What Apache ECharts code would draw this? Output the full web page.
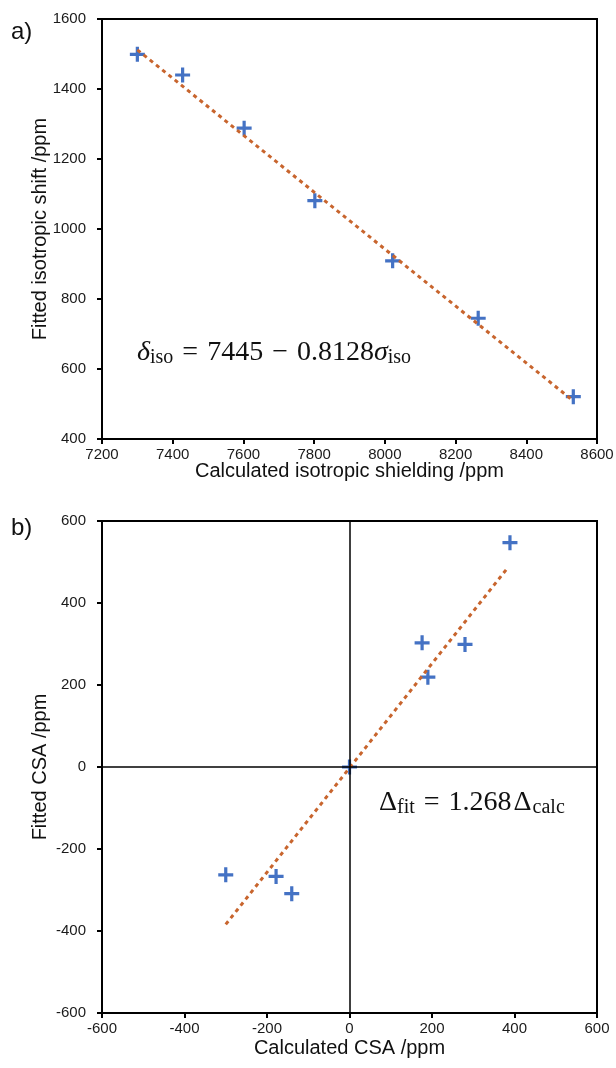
<!DOCTYPE html>
<html><head><meta charset="utf-8">
<script src="https://cdn.jsdelivr.net/npm/echarts@6/dist/echarts.min.js"></script>
<style>html,body{margin:0;padding:0;background:#fff}#c{width:616px;height:1068px}</style>
</head><body><div id="c"></div>
<script>
// Panel a) data
const isoCalc = [7300, 7428, 7602, 7802, 8022, 8264, 8533];
const isoFit = [1499, 1440, 1288, 1081, 909, 745, 521];
const isoTrendX = [7300, 8533];
const isoTrendY = [1512, 509];
const isoXTicks = [7200, 7400, 7600, 7800, 8000, 8200, 8400, 8600];
const isoYTicks = [400, 600, 800, 1000, 1200, 1400, 1600];
// Panel b) data
const csaCalc = [389, 176, 280, 190, 0, -300, -178, -140];
const csaFit = [547, 303, 299, 219, 0, -263, -267, -309];
const csaTrendX = [-300, 382];
const csaTrendY = [-384, 484];
const csaXTicks = [-600, -400, -200, 0, 200, 400, 600];
const csaYTicks = [-600, -400, -200, 0, 200, 400, 600];

const zip = (a, b) => a.map((v, i) => [v, b[i]]);
const PLUS = 'path://M5.5,0h3v5.5h5.5v3h-5.5v5.5h-3v-5.5h-5.5v-3h5.5z';
const BLUE = '#4472C4', ORANGE = '#C8652E';
const SANS = "'Liberation Sans', Arial, Helvetica, sans-serif";
const SERIF = "'Liberation Serif', 'Times New Roman', serif";

function axis(ticks, gi, name, gap, isY) {
  return {
    type: 'value', gridIndex: gi,
    min: ticks[0], max: ticks[ticks.length - 1], interval: ticks[1] - ticks[0],
    name: name, nameLocation: 'middle', nameGap: gap, nameMoveOverlap: false,
    nameTextStyle: { fontFamily: SANS, fontSize: 20, color: '#111' },
    axisLine: { show: true, onZero: false, lineStyle: { color: '#000', width: 2 } },
    axisTick: { show: true, inside: false, length: 5, lineStyle: { color: '#000', width: 2 } },
    axisLabel: { fontFamily: SANS, fontSize: 15, color: '#1a1a1a', margin: isY ? 16 : 8,
      formatter: v => String(v) },
    splitLine: { show: false }
  };
}

const rich = {
  i: { fontFamily: SERIF, fontStyle: 'italic', fontSize: 28, fill: '#111', lineHeight: 30, verticalAlign: 'middle' },
  n: { fontFamily: SERIF, fontSize: 28, fill: '#111', lineHeight: 30, verticalAlign: 'middle' },
  d: { fontFamily: SERIF, fontSize: 28, fill: '#111', lineHeight: 30, verticalAlign: 'middle', padding: [0, 1, 0, 2] },
  op: { fontFamily: SERIF, fontSize: 28, fill: '#111', lineHeight: 30, verticalAlign: 'middle', padding: [0, 9, 0, 9] },
  s: { fontFamily: SERIF, fontSize: 20, fill: '#111', lineHeight: 16, verticalAlign: 'bottom' }
};

const chart = echarts.init(document.getElementById('c'), null, { renderer: 'canvas' });
chart.setOption({
  animation: false,
  backgroundColor: '#fff',
  grid: [
    { left: 102, right: 19, top: 19, height: 420, show: true, borderColor: '#000', borderWidth: 2, outerBoundsMode: 'none', containLabel: false },
    { left: 102, right: 19, top: 521, height: 492, show: true, borderColor: '#000', borderWidth: 2, outerBoundsMode: 'none', containLabel: false }
  ],
  xAxis: [
    axis(isoXTicks, 0, 'Calculated isotropic shielding /ppm', 22, false),
    axis(csaXTicks, 1, 'Calculated CSA /ppm', 25, false)
  ],
  yAxis: [
    axis(isoYTicks, 0, 'Fitted isotropic shift /ppm', 52, true),
    axis(csaYTicks, 1, 'Fitted CSA /ppm', 52, true)
  ],
  series: [
    { type: 'scatter', xAxisIndex: 0, yAxisIndex: 0, data: zip(isoCalc, isoFit),
      symbol: PLUS, symbolSize: 15, itemStyle: { color: BLUE, opacity: 1 }, z: 3 },
    { type: 'line', xAxisIndex: 0, yAxisIndex: 0, data: zip(isoTrendX, isoTrendY),
      showSymbol: false, symbol: 'none',
      lineStyle: { color: ORANGE, width: 3, type: [4, 4] }, z: 4 },
    { type: 'scatter', xAxisIndex: 1, yAxisIndex: 1, data: zip(csaCalc, csaFit),
      symbol: PLUS, symbolSize: 15, itemStyle: { color: BLUE, opacity: 1 }, z: 3,
      markLine: { silent: true, symbol: 'none', label: { show: false },
        lineStyle: { color: '#000', width: 1.5, type: 'solid' },
        data: [{ xAxis: 0 }, { yAxis: 0 }] } },
    { type: 'line', xAxisIndex: 1, yAxisIndex: 1, data: zip(csaTrendX, csaTrendY),
      showSymbol: false, symbol: 'none',
      lineStyle: { color: ORANGE, width: 3, type: [4, 4] }, z: 4 }
  ],
  graphic: [
    { type: 'text', left: 11, top: 20, style: { text: 'a)', font: '24px ' + SANS, fill: '#111' } },
    { type: 'text', left: 11, top: 516, style: { text: 'b)', font: '24px ' + SANS, fill: '#111' } },
    { type: 'text', left: 137, top: 339, style: {
        text: '{i|δ}{s|iso}{op|=}{n|7445}{op|−}{n|0.8128}{i|σ}{s|iso}', rich: rich } },
    { type: 'text', left: 379, top: 789, style: {
        text: '{n|Δ}{s|fit}{op|=}{n|1.268}{d|Δ}{s|calc}', rich: rich } }
  ]
});
</script></body></html>
